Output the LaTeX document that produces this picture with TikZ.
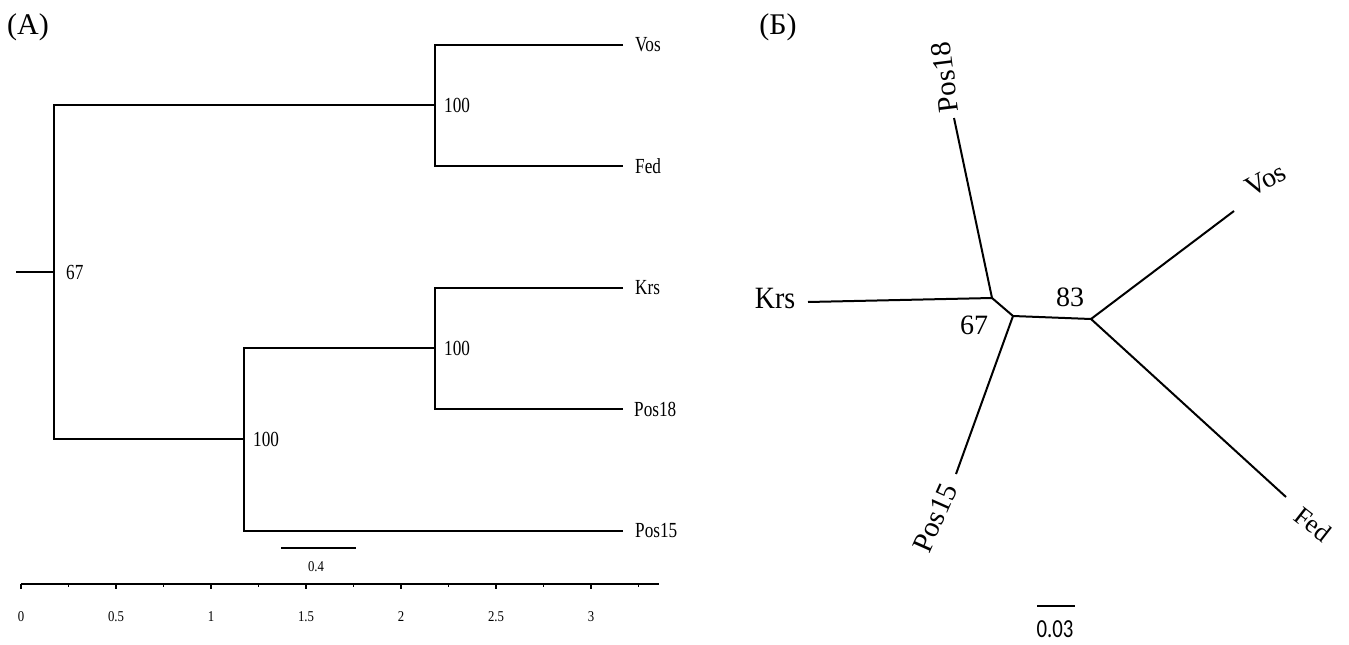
\documentclass[tikz,border=0pt]{standalone}
\usepackage{fontspec}
\setmainfont{Liberation Serif}
\newfontfamily\cbfont{Carlito}
\usepackage{graphicx}
\usetikzlibrary{calc}
\newcommand{\cnd}[1]{\scalebox{0.8}[1]{#1}}
\newcommand{\cns}[1]{\scalebox{0.85}[1]{#1}}
\begin{document}
\begin{tikzpicture}[x=1pt,y=-1pt,
  br/.style={line width=2pt, line join=miter},
  leafA/.style={anchor=west, inner sep=0pt, font=\fontsize{21.5}{23}\selectfont},
  bootA/.style={anchor=west, inner sep=0pt, font=\fontsize{21.5}{23}\selectfont},
  axlab/.style={inner sep=0pt, font=\fontsize{15}{17}\selectfont},
  panel/.style={inner sep=0pt, font=\fontsize{30}{32}\selectfont},
  leafB/.style={inner sep=0pt, font=\fontsize{29}{31}\selectfont},
  bootB/.style={inner sep=0pt, font=\fontsize{28}{30}\selectfont}]
\useasboundingbox (0,0) rectangle (1349,645);

% ---------- Panel A ----------
\node[panel] (pA) at (28,27) {(A)};

\coordinate (a0) at (16,272);
\coordinate (aR) at (54,272);
\coordinate (aRt) at (54,105);
\coordinate (aRb) at (54,439);
\coordinate (aT) at (435,105);
\coordinate (aTt) at (435,45);
\coordinate (aTb) at (435,166);
\coordinate (aB) at (244,439);
\coordinate (aBt) at (244,348);
\coordinate (aBb) at (244,531);
\coordinate (aC) at (435,348);
\coordinate (aCt) at (435,288);
\coordinate (aCb) at (435,409);
\coordinate (lVos) at (623,45);
\coordinate (lFed) at (623,166);
\coordinate (lKrs) at (623,288);
\coordinate (lP18) at (623,409);
\coordinate (lP15) at (623,531);

\draw[br] (a0) -- (aR);
\draw[br] (aT) -- (aRt) -- (aRb) -- (aB);
\draw[br] (lVos) -- (aTt) -- (aTb) -- (lFed);
\draw[br] (aC) -- (aBt) -- (aBb) -- (lP15);
\draw[br] (lKrs) -- (aCt) -- (aCb) -- (lP18);

\node[leafA] (tVos) at ([xshift=12]lVos) {\cnd{Vos}};
\node[leafA] (tFed) at ([xshift=12]lFed) {\cnd{Fed}};
\node[leafA] (tKrs) at ([xshift=12]lKrs) {\cnd{Krs}};
\node[leafA] (tP18) at ([xshift=11]lP18) {\cnd{Pos18}};
\node[leafA] (tP15) at ([xshift=12]lP15) {\cnd{Pos15}};

\node[bootA] (bT) at (444,105) {\cnd{100}};
\node[bootA] (bC) at (444,348) {\cnd{100}};
\node[bootA] (bB) at (253,439) {\cnd{100}};
\node[bootA] (bR) at (66,272) {\cnd{67}};

% scale bar A
\coordinate (sa0) at (281,548);
\coordinate (sa1) at (356,548);
\draw[line width=2pt] (sa0) -- (sa1);
\node[axlab] (sal) at (316,567) {\cns{0.4}};

% axis
\coordinate (ax0) at (21,584);
\coordinate (ax1) at (659,584);
\draw[line width=1.8pt] (ax0) -- (ax1);
\foreach \i in {0,...,13}{
  \draw[line width=1pt] ([xshift=47.5*\i]ax0) -- ++(0,3);
}
\foreach \i/\t in {0/0,1/0.5,2/1,3/1.5,4/2,5/2.5,6/3}{
  \draw[line width=1.3pt] ([xshift=95*\i]ax0) -- ++(0,5);
  \node[axlab] (al\i) at ([xshift=95*\i,yshift=-33]ax0) {\cns{\t}};
}

% ---------- Panel B ----------
\node[panel] (pB) at (778,27) {(Б)};

\coordinate (n1) at (992,298);
\coordinate (n2) at (1013,316);
\coordinate (n3) at (1091,319);
\coordinate (bP18) at (954,118);
\coordinate (bKrs) at (808,302);
\coordinate (bVos) at (1234,211);
\coordinate (bP15) at (956,474);
\coordinate (bFed) at (1286,497);

\draw[br] (n1) -- (bP18);
\draw[br] (n1) -- (bKrs);
\draw[br] (n1) -- (n2);
\draw[br] (n2) -- (n3);
\draw[br] (n2) -- (bP15);
\draw[br] (n3) -- (bVos);
\draw[br] (n3) -- (bFed);

\node[leafB, rotate=97] (uP18) at (945,77) {Pos18};
\node[leafB, rotate=28, font=\fontsize{28}{30}\selectfont] (uVos) at (1266,180) {Vos};
\node[leafB, rotate=-38, font=\fontsize{26}{28}\selectfont] (uFed) at (1313,524) {Fed};
\node[leafB, rotate=66] (uP15) at (935,518) {Pos15};
\node[leafB, font=\fontsize{31}{33}\selectfont] (uKrs) at (775,298) {\scalebox{0.9}[1]{Krs}};

\node[bootB] (c83) at (1070,297) {83};
\node[bootB] (c67) at (974,325) {67};

\coordinate (sb0) at (1037,606);
\coordinate (sb1) at (1075,606);
\draw[line width=2.4pt] (sb0) -- (sb1);
\node[inner sep=0pt, font=\cbfont\fontsize{26}{28}\selectfont] (sbl) at (1055,629) {\scalebox{0.8}[1]{0.03}};
\end{tikzpicture}
\end{document}
